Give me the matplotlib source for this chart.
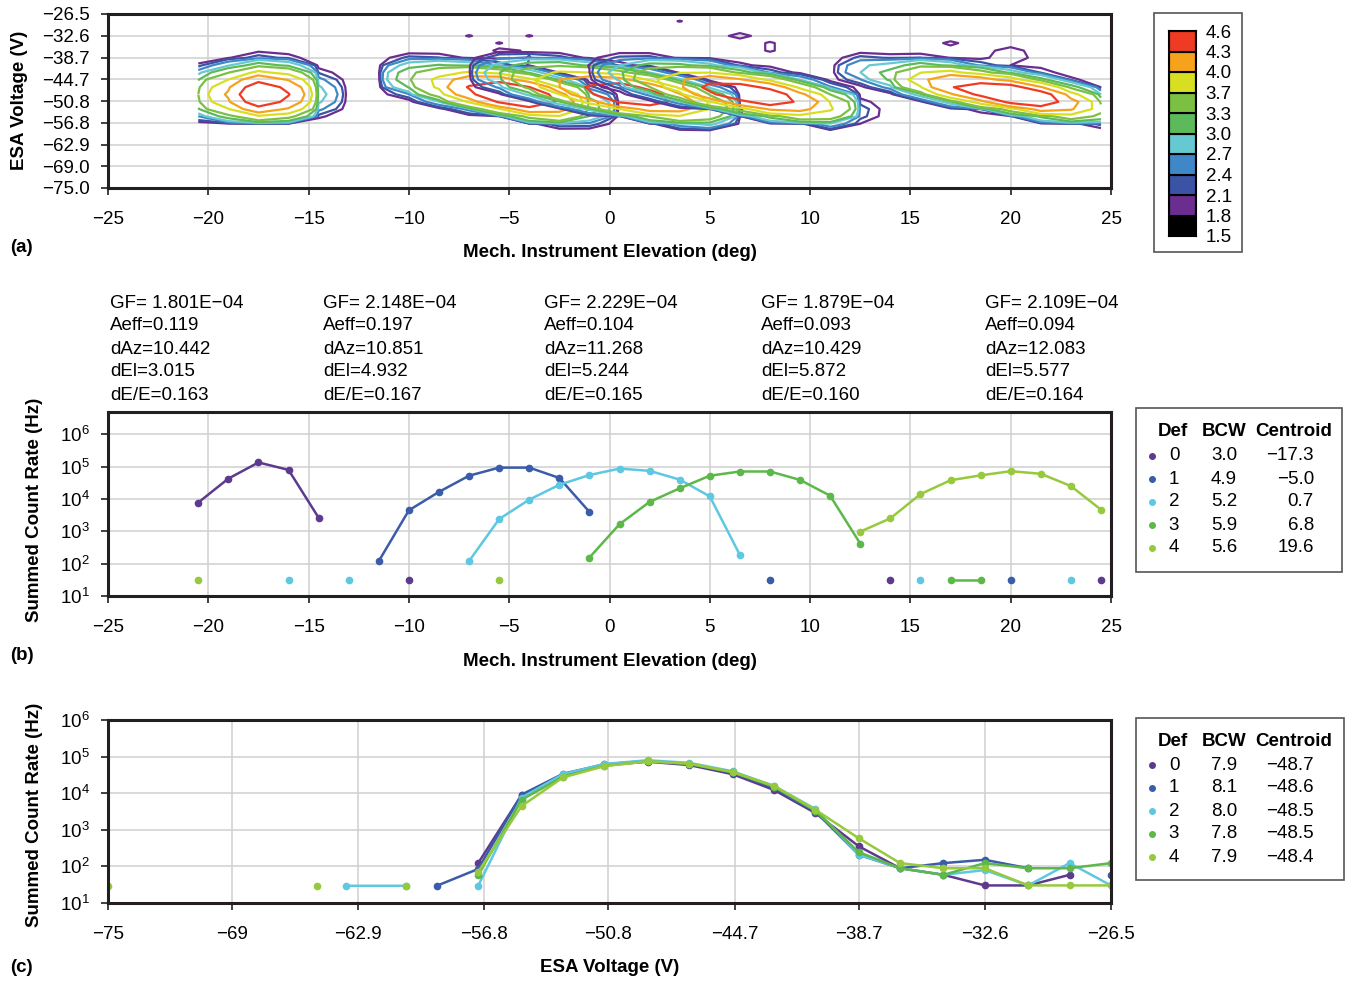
import numpy as np
import matplotlib
matplotlib.use("Agg")
import matplotlib.pyplot as plt
from matplotlib.patches import Rectangle
from matplotlib.lines import Line2D
from matplotlib.ticker import NullLocator

plt.rcParams['font.family'] = ['Liberation Sans', 'DejaVu Sans']
plt.rcParams['font.size'] = 13.5

nan = np.nan
W_PX, H_PX = 1348, 982

### DATA ###
defs = ['0', '1', '2', '3', '4']
def_colors = ['#5e3a8e', '#3b5ca9', '#5ec7e1', '#5cb848', '#97c93d']

# elevation scan (b): mech. elevation (deg), log10 summed count rate (Hz)
elev = np.arange(-20.5, 25.0, 1.5)
elev_log = [
    [3.89, 4.63, 5.13, 4.90, 3.42, nan, nan, 1.48, nan, nan,
     nan, nan, nan, nan, nan, nan, nan, nan, nan, nan,
     nan, nan, nan, 1.48, nan, nan, nan, nan, nan, nan,
     1.48],
    [nan, nan, nan, nan, nan, nan, 2.08, 3.65, 4.22, 4.72,
     4.97, 4.97, 4.65, 3.60, nan, nan, nan, nan, nan, 1.48,
     nan, nan, nan, nan, nan, nan, nan, 1.48, nan, nan,
     nan],
    [nan, nan, nan, 1.48, nan, 1.48, nan, nan, nan, 2.08,
     3.38, 3.98, 4.44, 4.74, 4.94, 4.87, 4.60, 4.08, 2.27, nan,
     nan, nan, nan, nan, 1.48, nan, nan, nan, nan, 1.48,
     nan],
    [nan, nan, nan, nan, nan, nan, nan, nan, nan, nan,
     nan, nan, nan, 2.19, 3.22, 3.91, 4.33, 4.72, 4.85, 4.85,
     4.59, 4.10, 2.62, nan, nan, 1.48, 1.48, nan, nan, nan,
     nan],
    [1.48, nan, nan, nan, nan, nan, nan, nan, nan, nan,
     1.48, nan, nan, nan, nan, nan, nan, nan, nan, nan,
     nan, nan, 2.99, 3.40, 4.15, 4.58, 4.73, 4.86, 4.78, 4.40,
     3.67],
]

# voltage scan (c): ESA voltage (V), log10 summed count rate (Hz)
volt = np.array([-75.0, -67.0, -64.9, -63.5, -60.6, -59.1, -57.1, -55.0, -53.0, -51.0,
                 -48.9, -46.9, -44.8, -42.8, -40.8, -38.7, -36.7, -34.6, -32.6, -30.5,
                 -28.5, -26.5])
volt_log = [
    [nan, nan, nan, nan, nan, nan, 2.09, 3.95, 4.50, 4.77, 4.86,
     4.77, 4.52, 4.09, 3.46, 2.55, 1.95, 1.77, 1.48, 1.48, 1.77, nan],
    [nan, nan, nan, nan, nan, 1.47, 1.93, 3.96, 4.53, 4.79, 4.88,
     4.80, 4.56, 4.15, 3.50, 2.32, 1.95, 2.09, 2.18, 1.95, nan, 1.77],
    [nan, nan, nan, 1.47, 1.47, nan, 1.47, 3.88, 4.52, 4.80, 4.90,
     4.83, 4.60, 4.20, 3.57, 2.32, 1.95, 1.77, 1.90, 1.48, 2.09, 1.48],
    [nan, nan, nan, nan, nan, nan, 1.77, 3.82, 4.45, 4.75, 4.87,
     4.80, 4.57, 4.18, 3.52, 2.39, 1.95, 1.77, 2.09, 1.95, 1.95, 2.09],
    [1.47, nan, 1.47, nan, 1.47, nan, 1.85, 3.65, 4.43, 4.74, 4.87,
     4.81, 4.58, 4.20, 3.55, 2.77, 2.09, 1.95, 1.95, 1.48, 1.48, 1.48],
]

volt_ticks = [-75.0, -69.0, -62.9, -56.8, -50.8, -44.7, -38.7, -32.6, -26.5]
volt_labels_a = ['−75.0', '−69.0', '−62.9', '−56.8', '−50.8', '−44.7', '−38.7', '−32.6', '−26.5']
volt_labels_c = ['−75', '−69', '−62.9', '−56.8', '−50.8', '−44.7', '−38.7', '−32.6', '−26.5']

# table values
bcw_elev = ['3.0', '4.9', '5.2', '5.9', '5.6']
cen_elev = ['−17.3', '−5.0', '0.7', '6.8', '19.6']
bcw_volt = ['7.9', '8.1', '8.0', '7.8', '7.9']
cen_volt = ['−48.7', '−48.6', '−48.5', '−48.5', '−48.4']

gf = ['1.801E−04', '2.148E−04', '2.229E−04', '1.879E−04', '2.109E−04']
aeff = ['0.119', '0.197', '0.104', '0.093', '0.094']
daz = ['10.442', '10.851', '11.268', '10.429', '12.083']
dels = ['3.015', '4.932', '5.244', '5.872', '5.577']
dee = ['0.163', '0.167', '0.165', '0.160', '0.164']

# contour map (a)
cont_levels = [1.8, 2.1, 2.4, 2.7, 3.0, 3.3, 3.7, 4.0, 4.3]
cont_colors = ['#6b2d8f', '#3a53a4', '#3f87c6', '#66c9d1', '#5dba5b',
               '#7bc043', '#d8df20', '#f7a21b', '#ef3b23']
cbar_labels = ['1.5', '1.8', '2.1', '2.4', '2.7', '3.0', '3.3', '3.7', '4.0', '4.3', '4.6']
cbar_colors = ['#000000'] + cont_colors
map_center_elev = [-17.3, -5.0, 0.7, 6.8, 19.6]
map_center_volt = [-48.7, -48.6, -48.5, -48.5, -48.4]
map_tilt = [0.0, -0.9, -0.9, -0.9, -0.9]      # V per deg
map_width = [1.0, 0.75, 0.75, 0.7, 0.65]
map_gain = [1.0, 1.2, 1.2, 1.27, 1.38]
stray_counts = [(-7.0, -32.6, 70), (-5.5, -34.6, 70), (-4.0, -32.6, 70),
                (3.5, -28.5, 68), (6.5, -32.6, 100), (8.0, -34.6, 75),
                (8.0, -36.7, 75), (17.0, -34.6, 70), (20.0, -36.7, 85),
                (20.0, -38.7, 75)]


### HELPERS ###
fig = plt.figure(figsize=(W_PX / 100, H_PX / 100), dpi=100)


def px_axes(l, t, r, b):
    return fig.add_axes([l / W_PX, 1 - b / H_PX, (r - l) / W_PX, (b - t) / H_PX])


def ftext(x, y, s, **kw):
    kw.setdefault('va', 'center')
    fig.text(x / W_PX, 1 - y / H_PX, s, **kw)


def style(ax):
    for s in ax.spines.values():
        s.set_linewidth(2.2)
        s.set_color('#231f20')
    ax.tick_params(direction='out', length=5, width=1.2, pad=8, labelsize=13.5,
                   color='#231f20')
    ax.tick_params(axis='x', pad=11.5)
    ax.grid(True, color='#cfcfcf', lw=1.1)
    ax.set_axisbelow(True)


def log_axis(ax, top):
    ax.set_yscale('log')
    ax.set_ylim(10, top)
    ax.set_yticks([10.0 ** k for k in range(1, 7)])
    ax.set_yticklabels([r'$\mathregular{10^{%d}}$' % k for k in range(1, 7)])
    ax.yaxis.set_minor_locator(NullLocator())


def table(top, bcw, cen):
    ftext(1158, top, 'Def', weight='bold')
    ftext(1202, top, 'BCW', weight='bold')
    ftext(1255, top, 'Centroid', weight='bold')
    for i in range(5):
        y = top + 24 + 23 * i
        fig.add_artist(Line2D([1152 / W_PX], [1 - y / H_PX], marker='o', ms=4,
                              color=def_colors[i], transform=fig.transFigure))
        ftext(1174, y, defs[i], ha='center')
        ftext(1237, y, bcw[i], ha='right')
        ftext(1314, y, cen[i], ha='right')


def box(l, t, r, b):
    fig.add_artist(Rectangle((l / W_PX, 1 - b / H_PX), (r - l) / W_PX, (b - t) / H_PX,
                             transform=fig.transFigure, fill=False, ec='#555555', lw=1.2))


### (a) contour map ###
ax_a = px_axes(108, 14, 1111, 188)
style(ax_a)
volt_map = volt[volt > -59.5]
ee, vv = np.meshgrid(elev, volt_map)

stray = np.zeros_like(ee)
for e, v, r in stray_counts:
    stray[np.abs(volt_map - v).argmin(), np.abs(elev - e).argmin()] += r

for d in range(5):
    rate_e = np.nan_to_num(10 ** np.array(elev_log[d]), nan=0.0)
    prof = np.nan_to_num(10 ** np.array(volt_log[d]), nan=0.0)
    prof = prof / prof.sum()
    shift = map_tilt[d] * (ee - map_center_elev[d])
    src_v = map_center_volt[d] + (vv - map_center_volt[d] - shift) / map_width[d]
    field = map_gain[d] * rate_e[None, :] * np.interp(src_v, volt, prof, left=0, right=0) / map_width[d]
    if d == 4:
        field = field + stray
    ax_a.contour(elev, volt_map, field, levels=10 ** np.array(cont_levels),
                 colors=cont_colors, linewidths=1.6)

ax_a.set_xlim(-25, 25)
ax_a.set_ylim(-75, -26.5)
ax_a.set_xticks(np.arange(-25, 26, 5))
ax_a.set_yticks(volt_ticks)
ax_a.set_yticklabels(volt_labels_a)

# colour bar
cax = px_axes(1169, 31, 1196, 236)
for i, c in enumerate(cbar_colors):
    cax.add_patch(Rectangle((0, i), 1, 1, facecolor=c, edgecolor='black', lw=1.5))
cax.set_xlim(0, 1)
cax.set_ylim(0, 10)
cax.set_xticks([])
cax.yaxis.tick_right()
cax.set_yticks(range(11))
cax.set_yticklabels(cbar_labels)
cax.tick_params(length=0, pad=7, labelsize=13.5)
for s in cax.spines.values():
    s.set_linewidth(1.5)
box(1154, 13, 1242, 252)

### (b) elevation scan ###
ax_b = px_axes(108, 412, 1111, 596)
style(ax_b)
for d in range(5):
    ax_b.plot(elev, 10 ** np.array(elev_log[d]), '-o', color=def_colors[d], ms=4.5, lw=1.8)
ax_b.set_xlim(-25, 25)
ax_b.set_xticks(np.arange(-25, 26, 5))
log_axis(ax_b, 10 ** 6.69)

for i, x in enumerate([110, 323, 544, 761, 985]):
    lines = ['GF= ' + gf[i], 'Aeff=' + aeff[i], 'dAz=' + daz[i], 'dEl=' + dels[i], 'dE/E=' + dee[i]]
    for j, s in enumerate(lines):
        ftext(x, 303 + 23 * j, s, ha='left')

box(1136, 408, 1342, 572)
table(432, bcw_elev, cen_elev)

### (c) voltage scan ###
ax_c = px_axes(108, 720, 1111, 903)
style(ax_c)
for d in range(5):
    ax_c.plot(volt, 10 ** np.array(volt_log[d]), '-o', color=def_colors[d], ms=4.5, lw=1.8)
ax_c.set_xlim(-75, -26.5)
ax_c.set_xticks(volt_ticks)
ax_c.set_xticklabels(volt_labels_c)
log_axis(ax_c, 1e6)

box(1136, 718, 1344, 880)
table(741, bcw_volt, cen_volt)

### labels ###
ftext(610, 252, 'Mech. Instrument Elevation (deg)', ha='center', weight='bold')
ftext(610, 662, 'Mech. Instrument Elevation (deg)', ha='center', weight='bold')
ftext(610, 968, 'ESA Voltage (V)', ha='center', weight='bold')
ftext(20, 100, 'ESA Voltage (V)', ha='center', rotation=90, weight='bold')
ftext(35, 510, 'Summed Count Rate (Hz)', ha='center', rotation=90, weight='bold')
ftext(35, 815, 'Summed Count Rate (Hz)', ha='center', rotation=90, weight='bold')
ftext(10, 248, '(a)', ha='left', weight='bold')
ftext(10, 656, '(b)', ha='left', weight='bold')
ftext(10, 967, '(c)', ha='left', weight='bold')

fig.savefig('out.png', dpi=100)
